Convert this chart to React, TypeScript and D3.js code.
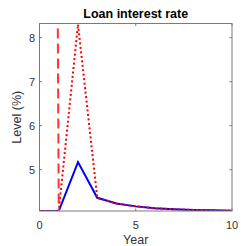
import React from "react";
import * as d3 from "d3";

const years = [0, 1, 2, 3, 4, 5, 6, 7, 8, 9, 10];
const blueSeries = [4.06, 4.06, 5.17, 4.36, 4.23, 4.165, 4.12, 4.1, 4.085, 4.075, 4.067];
const dottedSeries = [4.06, 4.06, 8.3, 4.36, 4.23, 4.165, 4.12, 4.1, 4.085, 4.075, 4.067];
const dashedYears = [0, 1];
const dashedSeries = [90, 4.06];
const xTicks = [0, 5, 10];
const yTicks = [5, 6, 7, 8];

const W = 241, H = 246;
const L = 39.5, R = 232, T = 23.5, B = 211;

export default function App() {
  const x = d3.scaleLinear().domain([0, 10]).range([L, R]);
  const y = d3.scaleLinear().domain([4.06, 8.32]).range([B, T]);
  const line = d3.line<[number, number]>().x(d => x(d[0])).y(d => y(d[1]));
  const blue = line(years.map((t, i) => [t, blueSeries[i]]));
  const dotted = line(years.map((t, i) => [t, dottedSeries[i]]));
  const dashed = line(dashedYears.map((t, i) => [t, dashedSeries[i]]));
  const axisColor = "#7a7a7a";
  const textColor = "#333333";
  const font = "Liberation Sans, Arial, sans-serif";
  return (
    <svg width={W} height={H} style={{ position: "absolute", left: 0, top: 0, background: "#fff" }} fontFamily={font}>
      <defs>
        <clipPath id="plot"><rect x={L} y={T} width={R - L} height={B - T} /></clipPath>
      </defs>
      <rect x={0} y={0} width={W} height={H} fill="#fff" />
      <g clipPath="url(#plot)">
        <path d={blue!} fill="none" stroke="#0000ff" strokeWidth={2} strokeLinejoin="miter" />
        <path d={dotted!} fill="none" stroke="#ff0000" strokeWidth={2} strokeDasharray="2,2.5" />
        <path d={dashed!} fill="none" stroke="#ff3333" strokeWidth={2} strokeDasharray="10,5" />
      </g>
      <rect x={L} y={T} width={R - L} height={B - T} fill="none" stroke={axisColor} strokeWidth={1} />
      {xTicks.map(t => (
        <g key={"x" + t}>
          <line x1={x(t)} x2={x(t)} y1={B} y2={B - 2.5} stroke={axisColor} />
          <line x1={x(t)} x2={x(t)} y1={T} y2={T + 2.5} stroke={axisColor} />
          <text x={x(t)} y={228.5} textAnchor="middle" fontSize={11} fill={textColor}>{t}</text>
        </g>
      ))}
      {yTicks.map(t => (
        <g key={"y" + t}>
          <line x1={L} x2={L + 2.5} y1={y(t)} y2={y(t)} stroke={axisColor} />
          <line x1={R} x2={R - 2.5} y1={y(t)} y2={y(t)} stroke={axisColor} />
          <text x={35} y={y(t) + 4} textAnchor="end" fontSize={11} fill={textColor}>{t}</text>
        </g>
      ))}
      <text x={(L + R) / 2} y={18.3} textAnchor="middle" fontSize={12.5} fontWeight="bold" fill="#000">Loan interest rate</text>
      <text x={(L + R) / 2} y={244} textAnchor="middle" fontSize={12.5} fill={textColor}>Year</text>
      <text transform={`translate(21,${(T + B) / 2}) rotate(-90)`} textAnchor="middle" fontSize={12.5} fill={textColor}>Level (%)</text>
    </svg>
  );
}
